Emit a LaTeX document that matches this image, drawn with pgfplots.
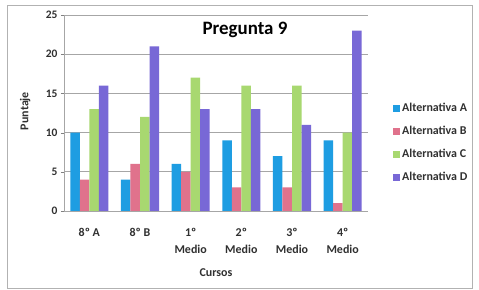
\documentclass[border=0pt]{standalone}
\usepackage{pgfplots}
\pgfplotsset{compat=1.18}
\usepackage{fontspec}
\setmainfont{Carlito}
\definecolor{cA}{HTML}{1E9DE2}
\definecolor{cB}{HTML}{E0728C}
\definecolor{cC}{HTML}{A8D870}
\definecolor{cD}{HTML}{7868D6}
\definecolor{txt}{HTML}{303030}
\begin{document}
\begin{tikzpicture}
\fill[white] (0bp,0bp) rectangle (479bp,290bp);
\draw[gray!60, line width=0.9bp] (7bp,2bp) rectangle (472bp,285bp);
\begin{axis}[
  at={(64bp,79bp)}, anchor=south west,
  scale only axis, width=304bp, height=196bp,
  ybar=0pt, bar width=9.5bp,
  xmin=-0.5, xmax=5.5, ymin=0, ymax=25,
  xtick={0,...,5},
  xticklabels={{8º A},{8º B},{1º\\Medio},{2º\\Medio},{3º\\Medio},{4º\\Medio}},
  extra x ticks={-0.5,0.5,1.5,2.5,3.5,4.5,5.5},
  extra x tick labels={},
  extra x tick style={major tick length=3bp, tick style={gray!70}},
  major x tick style={draw=none},
  ytick={0,5,...,25},
  tick align=outside,
  major tick length=3bp,
  axis x line*=bottom, axis y line*=left,
  axis line style={gray!70, line width=0.8bp},
  ymajorgrids, grid style={gray!70, line width=0.8bp},
  /pgf/number format/assume math mode=true,
  yticklabel style={font=\bfseries\fontsize{11.5}{13}\selectfont, text=txt},
  xticklabel style={font=\bfseries\fontsize{12}{17}\selectfont, text=txt, align=center, yshift=-11bp},
  xlabel={Cursos}, ylabel={Puntaje},
  label style={font=\bfseries\fontsize{12}{14}\selectfont, text=txt},
  xlabel style={at={(rel axis cs:0.5,-0.316)}, anchor=center},
  ylabel style={at={(rel axis cs:-0.128,0.51)}, anchor=center},
  legend style={at={(rel axis cs:1.072,0.57)}, anchor=north west, draw=none,
    font=\bfseries\fontsize{12}{14}\selectfont, text=txt, row sep=9bp, fill=none},
  legend cell align=left,
  legend image code/.code={\fill[#1] (0bp,-3.5bp) rectangle (7bp,3.5bp);},
]
\addplot[fill=cA, draw=none] coordinates {(0,10) (1,4) (2,6) (3,9) (4,7) (5,9)};
\addplot[fill=cB, draw=none] coordinates {(0,4) (1,6) (2,5) (3,3) (4,3) (5,1)};
\addplot[fill=cC, draw=none] coordinates {(0,13) (1,12) (2,17) (3,16) (4,16) (5,10)};
\addplot[fill=cD, draw=none] coordinates {(0,16) (1,21) (2,13) (3,13) (4,11) (5,23)};
\legend{Alternativa A, Alternativa B, Alternativa C, Alternativa D}
\end{axis}
\node[font=\bfseries\fontsize{19}{22}\selectfont, text=black] at (245bp,260bp) {Pregunta 9};
\end{tikzpicture}
\end{document}
